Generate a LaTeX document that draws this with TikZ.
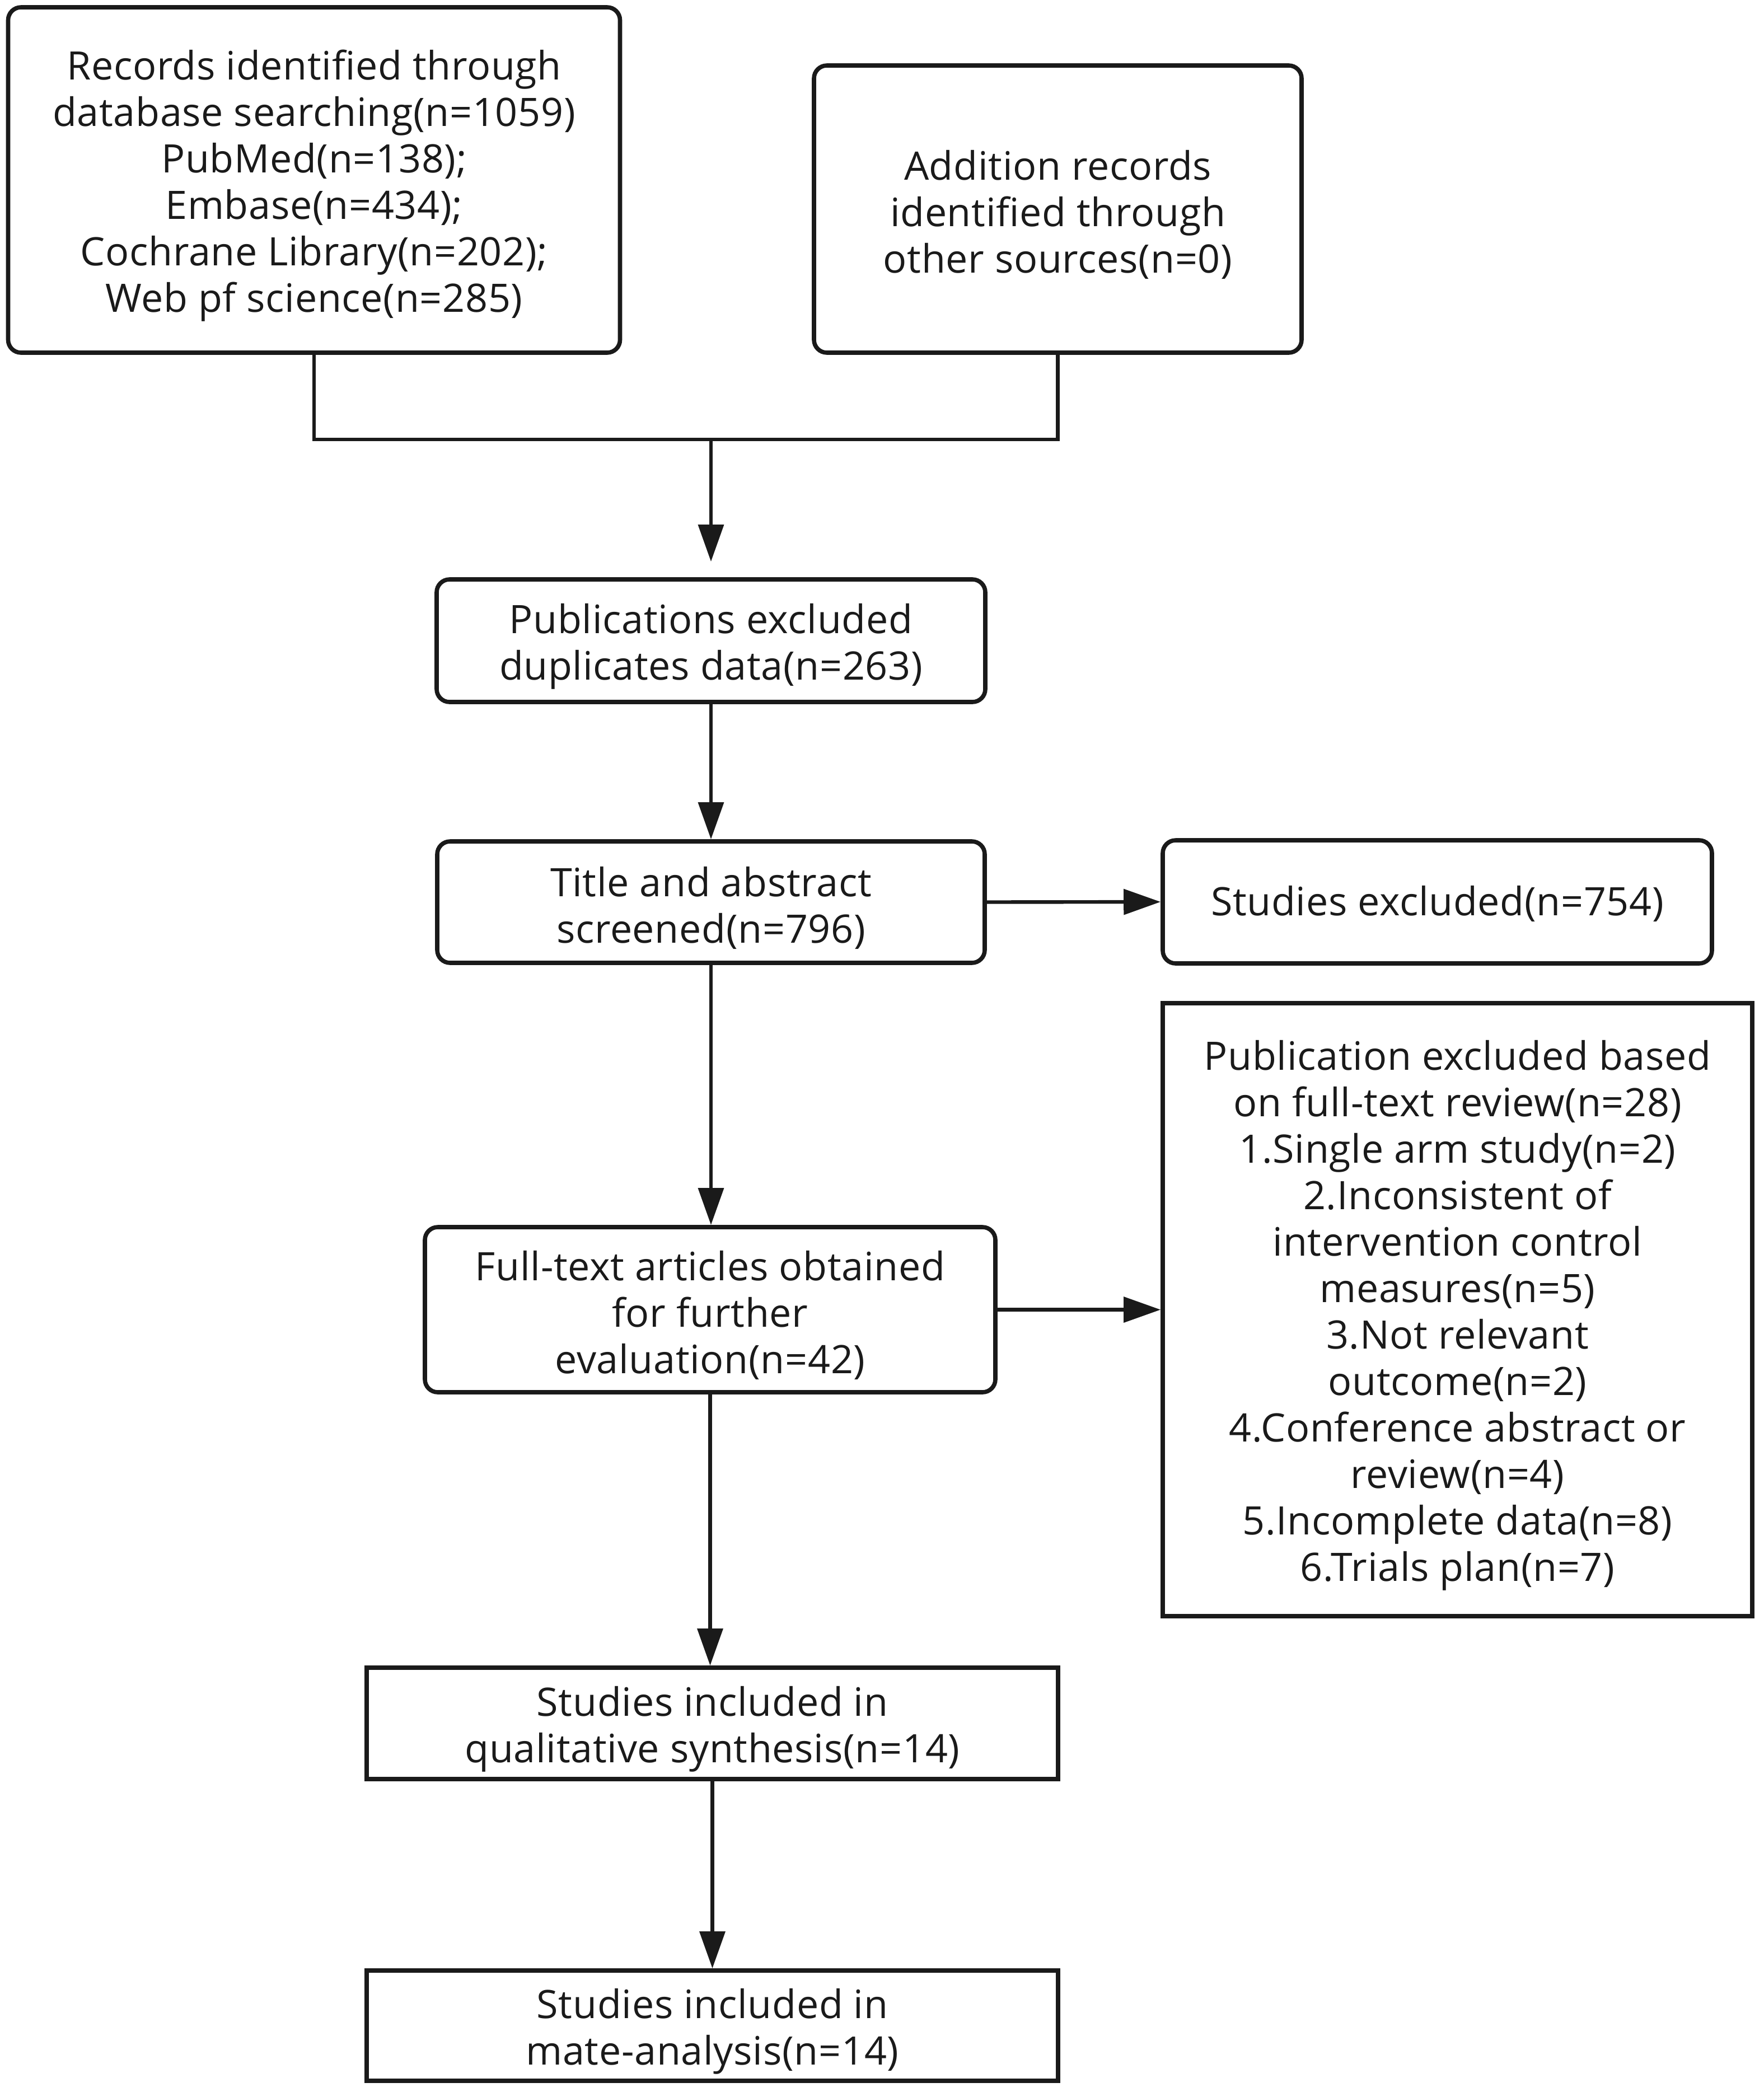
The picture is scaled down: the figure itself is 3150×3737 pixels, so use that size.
\documentclass[tikz,border=0pt]{standalone}
\usepackage{fontspec}
\setmainfont[LetterSpace=1.0]{Open Sans}
\usetikzlibrary{arrows.meta}
\definecolor{ink}{HTML}{1A1A1A}
\newcommand\topstrut{\rule{0pt}{18.3pt}}
\begin{document}
\begin{tikzpicture}[x=0.25pt,y=-0.25pt,
  box/.style={draw=ink, text=ink, line width=1.9pt, rounded corners=5.75pt, align=center, inner sep=0pt,
    font=\fontsize{17.5}{20.75}\selectfont},
  sqbox/.style={box, sharp corners},
  conn/.style={draw=ink, line width=1.6pt},
  arr/.style={conn, -{Triangle[length=16.5pt, width=11.25pt]}}]
\useasboundingbox (0,0) rectangle (3150,3737);
\fill[white] (0,0) rectangle (3150,3737);

\node[box, minimum width={1093*0.25pt}, minimum height={617*0.25pt}] (b1) at (561,321.5)
  {\topstrut Records identified through\\database searching(n=1059)\\PubMed(n=138);\\Embase(n=434);\\Cochrane Library(n=202);\\Web pf science(n=285)};
\node[box, minimum width={871*0.25pt}, minimum height={513*0.25pt}] (b2) at (1889.5,373.5)
  {\topstrut Addition records\\identified through\\other sources(n=0)};
\node[box, minimum width={980*0.25pt}, minimum height={219*0.25pt}] (b3) at (1270,1144.5)
  {\topstrut Publications excluded\\duplicates data(n=263)};
\node[box, minimum width={978*0.25pt}, minimum height={217*0.25pt}] (b4) at (1270,1611.5)
  {\topstrut Title and abstract\\screened(n=796)};
\node[box, minimum width={981*0.25pt}, minimum height={220*0.25pt}] (b5) at (2567.5,1611)
  {\rule{0pt}{15pt}Studies excluded(n=754)};
\node[sqbox, minimum width={1053*0.25pt}, minimum height={1095*0.25pt}] (b6) at (2603.5,2339.5)
  {\topstrut Publication excluded based\\on full-text review(n=28)\\1.Single arm study(n=2)\\2.Inconsistent of\\intervention control\\measures(n=5)\\3.Not relevant\\outcome(n=2)\\4.Conference abstract or\\review(n=4)\\5.Incomplete data(n=8)\\6.Trials plan(n=7)};
\node[box, minimum width={1019*0.25pt}, minimum height={295*0.25pt}] (b7) at (1268.5,2339.5)
  {\topstrut Full-text articles obtained\\for further\\evaluation(n=42)};
\node[sqbox, minimum width={1235*0.25pt}, minimum height={199*0.25pt}] (b8) at (1272.5,3078.5)
  {\topstrut Studies included in\\qualitative synthesis(n=14)};
\node[sqbox, minimum width={1235*0.25pt}, minimum height={197*0.25pt}] (b9) at (1272.5,3618.5)
  {\topstrut Studies included in\\mate-analysis(n=14)};

\coordinate (j) at (1270,785);
\draw[conn] (b1.south) |- (j) -| (b2.south);
\draw[arr, shorten >=7pt] (j) -- (b3.north);
\draw[arr] (b3.south) -- (b4.north);
\draw[arr] (b4.east) -- (b5.west);
\draw[arr] (b4.south) -- (b4.south |- b7.north);
\draw[arr] (b7.east) -- (b7.east -| b6.west);
\draw[arr] (b7.south) -- (b7.south |- b8.north);
\draw[arr] (b8.south) -- (b9.north);
\end{tikzpicture}
\end{document}
